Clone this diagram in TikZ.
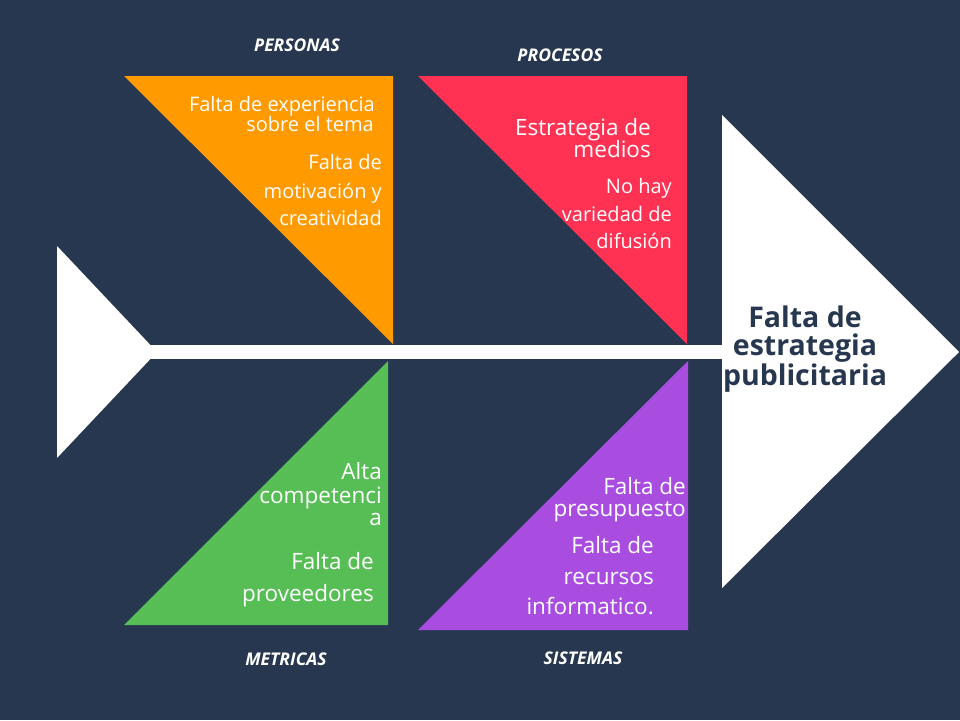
\documentclass[tikz,border=0pt]{standalone}
\usepackage{fontspec}
\setmainfont{Open Sans}
\begin{document}
\begin{tikzpicture}[x=1pt,y=-1pt,
  cause/.style={anchor=base east,inner sep=0pt,text=white,font=\fontsize{22.5}{24}\selectfont},
  smallcause/.style={cause,font=\fontsize{20}{22}\selectfont},
  category/.style={anchor=center,inner sep=0pt,text=white,font=\fontsize{17.5}{20}\selectfont\bfseries\itshape},
  headtext/.style={align=center,inner sep=0pt,text=navy,font=\fontsize{28.5}{28}\selectfont\bfseries}]
\definecolor{navy}{HTML}{26374F}
\definecolor{bone1}{HTML}{FF9A00}
\definecolor{bone2}{HTML}{FF3254}
\definecolor{bone3}{HTML}{57BE55}
\definecolor{bone4}{HTML}{A94DE1}
% background
\fill[navy] (0,0) rectangle (960,720);
\useasboundingbox (0,0) rectangle (960,720);
% spine, tail and head
\fill[white] (150,345) rectangle (724,359);
\fill[white] (57,246) -- (157,352) -- (57,458) -- cycle;
\fill[white] (722,115) -- (959,352) -- (722,588) -- cycle;
% bones
\fill[bone1] (124,76) -- (393,76) -- (393,344) -- cycle;
\fill[bone2] (418,76) -- (687,76) -- (687,344) -- cycle;
\fill[bone3] (388,361) -- (388,625) -- (124,625) -- cycle;
\fill[bone4] (688,361) -- (688,630) -- (418,630) -- cycle;
% category labels
\node[category] (personas) at (297,45) {PERSONAS};
\node[category] (procesos) at (560,55) {PROCESOS};
\node[category] (metricas) at (286,659) {METRICAS};
\node[category] (sistemas) at (583,658) {SISTEMAS};
% personas
\node[smallcause] (p1) at (375,111) {Falta de experiencia};
\node[smallcause] (p2) at (374,131) {sobre el tema};
\node[smallcause] (p3) at (382,169) {Falta de};
\node[smallcause] (p4) at (382,198) {motivación y};
\node[smallcause] (p5) at (382,225) {creatividad};
% procesos
\node[cause] (r1) at (651,135) {Estrategia de};
\node[cause] (r2) at (651,157) {medios};
\node[smallcause] (r3) at (672,193) {No hay};
\node[smallcause] (r4) at (672,221) {variedad de};
\node[smallcause] (r5) at (672,248) {difusión};
% metricas
\node[cause] (m1) at (382,479) {Alta};
\node[cause] (m2) at (382,503) {competenci};
\node[cause] (m3) at (382,525) {a};
\node[cause] (m4) at (374,569) {Falta de};
\node[cause] (m5) at (374,601) {proveedores};
% sistemas
\node[cause] (s1) at (686,494) {Falta de};
\node[cause] (s2) at (686,516) {presupuesto};
\node[cause] (s3) at (654,553) {Falta de};
\node[cause] (s4) at (654,584) {recursos};
\node[cause] (s5) at (654,614) {informatico.};
% effect
\node[headtext] (effect) at (805,349) {Falta de\\estrategia\\publicitaria};
\end{tikzpicture}
\end{document}
